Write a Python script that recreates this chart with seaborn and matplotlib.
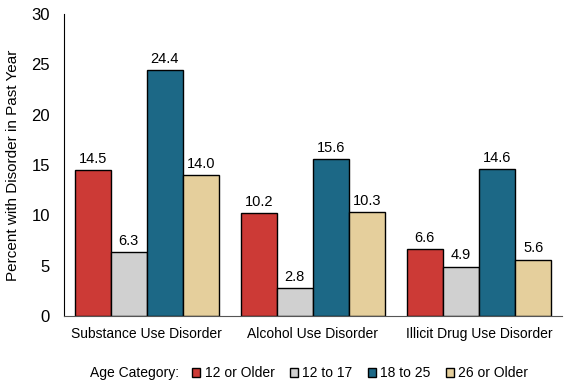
import matplotlib
matplotlib.use('Agg')
import matplotlib.pyplot as plt
import pandas as pd
import seaborn as sns

disorders = ['Substance Use Disorder', 'Alcohol Use Disorder', 'Illicit Drug Use Disorder']
ages = ['12 or Older', '12 to 17', '18 to 25', '26 or Older']
older12 = [14.5, 10.2, 6.6]
teen = [6.3, 2.8, 4.9]
young = [24.4, 15.6, 14.6]
older26 = [14.0, 10.3, 5.6]
colors = ['#CC3A36', '#D0D0D0', '#1C6886', '#E5CF9C']

rows = []
for age, vals in zip(ages, [older12, teen, young, older26]):
    for d, v in zip(disorders, vals):
        rows.append({'disorder': d, 'age': age, 'value': v})
df = pd.DataFrame(rows)

sns.set_style('white')
plt.rcParams['font.family'] = ['Liberation Sans', 'DejaVu Sans']
plt.rcParams['text.color'] = 'black'
plt.rcParams['xtick.color'] = 'black'
plt.rcParams['ytick.color'] = 'black'
plt.rcParams['axes.labelcolor'] = 'black'

fig = plt.figure(figsize=(5.7, 3.89), dpi=100)
ax = fig.add_axes([0.112, 0.188, 0.874, 0.776])
sns.barplot(data=df, x='disorder', y='value', hue='age', order=disorders,
            hue_order=ages, palette=colors, saturation=1, width=0.87,
            edgecolor='black', linewidth=1, ax=ax)

for c in ax.containers:
    ax.bar_label(c, fmt='%.1f', padding=3, fontsize=10.5)

ax.set_ylim(0, 30)
ax.set_xlim(-0.5, 2.5)
ax.set_yticks(range(0, 31, 5))
ax.tick_params(axis='both', length=0)
ax.tick_params(axis='x', labelsize=10, pad=8)
ax.tick_params(axis='y', labelsize=12, pad=10)
ax.set_xlabel('')
ax.set_ylabel('Percent with Disorder in Past Year', fontsize=11, labelpad=8)
sns.despine(ax=ax)
ax.spines['left'].set_color('black')
ax.spines['bottom'].set_color('#555555')

handles, labels = ax.get_legend_handles_labels()
ax.get_legend().remove()
fig.legend(handles, labels, loc='center left', bbox_to_anchor=(0.337, 0.041),
           ncol=4, frameon=False, fontsize=10, handlelength=0.6, handleheight=0.6,
           handletextpad=0.3, columnspacing=1.1, borderaxespad=0, borderpad=0)
fig.text(0.158, 0.041, 'Age Category:', fontsize=10, va='center', ha='left')

fig.savefig('out.png', dpi=100)
